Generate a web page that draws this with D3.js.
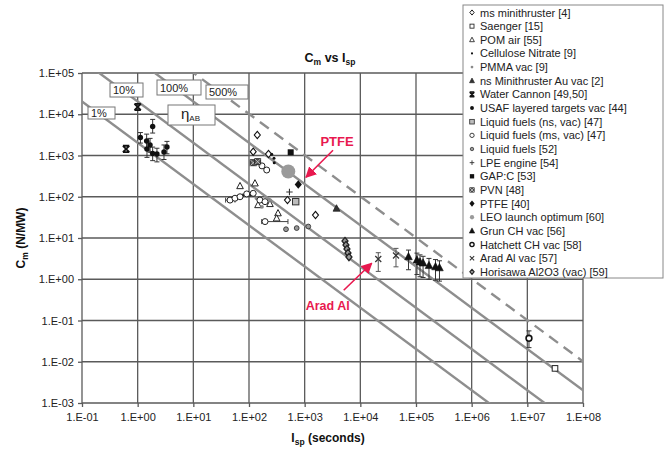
<!DOCTYPE html>
<html><head><meta charset="utf-8">
<script src="https://cdn.jsdelivr.net/npm/d3@7"></script>
<style>
html,body{margin:0;padding:0;background:#fff;}
svg{display:block;font-family:"Liberation Sans",Arial,sans-serif;}
</style></head><body>
<svg id="chart" width="669" height="450"></svg>
<script>
// ---- axis ticks ----
const xTickValues = [1e-1, 1e0, 1e1, 1e2, 1e3, 1e4, 1e5, 1e6, 1e7, 1e8];
const xTickLabels = ["1.E-01","1.E+00","1.E+01","1.E+02","1.E+03","1.E+04","1.E+05","1.E+06","1.E+07","1.E+08"];
const yTickValues = [1e-3, 1e-2, 1e-1, 1e0, 1e1, 1e2, 1e3, 1e4, 1e5];
const yTickLabels = ["1.E-03","1.E-02","1.E-01","1.E+00","1.E+01","1.E+02","1.E+03","1.E+04","1.E+05"];

// ---- constant-efficiency lines: eta_AB = Cm * g0 * Isp / 2 ----
const etaLevels = [0.01, 0.1, 1, 5];
const etaLabels = ["1%", "10%", "100%", "500%"];
const g0 = 9.80665;

// ---- series: [Isp (s), Cm (N/MW)] ----
const msMinithruster = [[141,3140],[119,1236],[224,1087],[491,83],[1565,36]];
const saenger = [[3.14e7,0.0069]];
const pomAir = [[69,182],[128,212],[145,63],[238,67],[332,40],[314,30]];
const celluloseNitrate = [[281,855],[256,1070],[284,668],[78,110],[104,110]];
const pmmaVac = [[137,92],[238,83],[171,57]];
const nsMinithrusterAu = [[3730,52]];
const waterCannon = [[1.0,15000],[0.62,1440]];
const usafTargets = [[1.86,5050],[1.12,2730],[1.45,2250],[1.67,1800],[1.47,1440],[1.86,1117],[2.22,1087],[2.97,1215],[3.36,1608]];
const usafLow  = [3500,2000,1500,1200,900,750,700,800,1100];
const usafHigh = [7500,3600,3300,2600,2200,1600,1500,1800,2200];
const liquidNsVac = [[690,76]];
const liquidMsVac = [[45.6,83],[56,92],[69,100],[91,117],[119,121],[157,83],[194,76],[208,445],[171,560],[194,25]];
const liquidMsXLow  = [38,null,null,null,null,null,null,null,null,169];
const liquidMsXHigh = [56,null,null,null,null,null,null,null,null,501];
const liquidFuels52 = [[462,16.3],[719,17.4],[1161,19]];
const lpeEngine = [[533,130]];
const gapC = [[561,1196]];
const pvn = [[119,668],[143,708]];
const ptfe = [[768,198]];
const leoOptimum = [[508,409]];
const grunCH = [[7.33e4,3.52],[1.04e5,2.93],[1.18e5,2.62],[1.34e5,2.48],[1.71e5,2.15],[2.24e5,2.01],[2.64e5,1.90]];
const grunLow  = [1.7,1.3,1.15,1.1,1.0,0.95,0.9];
const grunHigh = [5.1,4.3,3.9,3.6,3.2,3.0,2.8];
const hatchettCH = [[1.07e7,0.037]];
const hatchettLow = [0.022];
const hatchettHigh = [0.056];
const aradAl = [[2.1e4,3.1],[4.37e4,3.77]];
const aradLow  = [1.55,2.0];
const aradHigh = [4.4,5.6];
const horisawa = [[5300,8.45],[5520,6.76],[5750,5.41],[6000,4.33],[6250,3.46]];

// ---- legend entries ----
const legendNames = [
  "ms minithruster [4]","Saenger [15]","POM air [55]","Cellulose Nitrate [9]","PMMA vac [9]",
  "ns Minithruster Au vac [2]","Water Cannon [49,50]","USAF layered targets vac [44]",
  "Liquid fuels (ns, vac) [47]","Liquid fuels (ms, vac) [47]","Liquid fuels [52]","LPE engine [54]",
  "GAP:C [53]","PVN [48]","PTFE [40]","LEO launch optimum [60]","Grun CH vac [56]",
  "Hatchett CH vac [58]","Arad Al vac [57]","Horisawa Al2O3 (vac) [59]"
];

// marker styles per series (same order as legendNames)
const styles = [
  {shape:"diamond", r:3, fill:"#fff", stroke:"#111", sw:1.1},
  {shape:"square", r:2.8, fill:"#fff", stroke:"#222", sw:1},
  {shape:"triangle", r:3.3, fill:"#fff", stroke:"#222", sw:1},
  {shape:"circle", r:1.5, fill:"#111", stroke:"none", sw:0},
  {shape:"circle", r:1.9, fill:"#8a8a8a", stroke:"none", sw:0},
  {shape:"triangle", r:3.4, fill:"#333", stroke:"#222", sw:0.8},
  {shape:"hourglass", r:3.2, fill:"none", stroke:"#111", sw:1.8},
  {shape:"circle", r:2.7, fill:"#111", stroke:"none", sw:0},
  {shape:"square", r:3.2, fill:"#bdbdbd", stroke:"#333", sw:1},
  {shape:"circle", r:3, fill:"#fff", stroke:"#222", sw:1},
  {shape:"circle", r:2.4, fill:"#999", stroke:"#333", sw:0.9},
  {shape:"plus", r:3.2, fill:"none", stroke:"#333", sw:1.1},
  {shape:"square", r:3, fill:"#111", stroke:"none", sw:0},
  {shape:"xsquare", r:3, fill:"#555", stroke:"#222", sw:0.9},
  {shape:"diamond", r:3.6, fill:"#111", stroke:"none", sw:0},
  {shape:"circle", r:3, fill:"#9a9a9a", stroke:"none", sw:0, plotR:7},
  {shape:"triangle", r:3.8, fill:"#111", stroke:"#111", sw:0.6},
  {shape:"circle", r:2.9, fill:"#fff", stroke:"#111", sw:1.6},
  {shape:"x", r:3, fill:"none", stroke:"#333", sw:1.2},
  {shape:"diamond", r:3, fill:"#999", stroke:"#222", sw:1.3}
];

const seriesData = [msMinithruster, saenger, pomAir, celluloseNitrate, pmmaVac, nsMinithrusterAu,
  waterCannon, usafTargets, liquidNsVac, liquidMsVac, liquidFuels52, lpeEngine, gapC, pvn, ptfe,
  leoOptimum, grunCH, hatchettCH, aradAl, horisawa];

const yErrors = [
  {data: usafTargets, lo: usafLow, hi: usafHigh, color:"#333"},
  {data: grunCH, lo: grunLow, hi: grunHigh, color:"#333"},
  {data: hatchettCH, lo: hatchettLow, hi: hatchettHigh, color:"#333"},
  {data: aradAl, lo: aradLow, hi: aradHigh, color:"#555"}
];
const xErrors = [
  {data: liquidMsVac, lo: liquidMsXLow, hi: liquidMsXHigh, color:"#444"}
];

// ---- layout ----
const plot = {left:82, right:583, top:73, bottom:403};
const svg = d3.select("#chart");

const x = d3.scaleLog().domain([1e-1, 1e8]).range([plot.left, plot.right]);
const y = d3.scaleLog().domain([1e-3, 1e5]).range([plot.bottom, plot.top]);

svg.append("rect").attr("width",669).attr("height",450).attr("fill","#fff");

svg.append("defs").append("clipPath").attr("id","plotClip")
  .append("rect").attr("x",plot.left).attr("y",plot.top)
  .attr("width",plot.right-plot.left).attr("height",plot.bottom-plot.top);

// grid
const grid = svg.append("g").attr("stroke","#5a5a5a").attr("stroke-width",1.3);
grid.selectAll("line.h").data(yTickValues).join("line")
  .attr("x1",plot.left).attr("x2",plot.right).attr("y1",d=>y(d)).attr("y2",d=>y(d));
grid.selectAll("line.v").data(xTickValues).join("line")
  .attr("y1",plot.top).attr("y2",plot.bottom).attr("x1",d=>x(d)).attr("x2",d=>x(d));

// axes
const yAxis = svg.append("g").attr("transform",`translate(${plot.left},0)`)
  .call(d3.axisLeft(y).tickValues(yTickValues).tickFormat((d,i)=>yTickLabels[i]).tickSize(4).tickPadding(4));
const xAxis = svg.append("g").attr("transform",`translate(0,${plot.bottom})`)
  .call(d3.axisBottom(x).tickValues(xTickValues).tickFormat((d,i)=>xTickLabels[i]).tickSize(4).tickPadding(6));
[yAxis, xAxis].forEach(a=>{
  a.select(".domain").remove();
  a.selectAll(".tick line").attr("stroke","#5a5a5a").attr("stroke-width",1.3);
  a.selectAll(".tick text").attr("fill","#222").style("font-size","11px")
   .style("font-family",'"Liberation Sans",Arial,sans-serif');
});

// efficiency lines
const effLine = d3.line().x(d=>x(d[0])).y(d=>y(d[1]));
const effG = svg.append("g").attr("clip-path","url(#plotClip)");
etaLevels.forEach((eta)=>{
  const k = 2 * eta * 1e6 / g0;
  const pts = [1e-3, 1e9].map(isp=>[isp, k/isp]);
  effG.append("path").attr("d", effLine(pts))
    .attr("fill","none").attr("stroke","#8e8e8e").attr("stroke-width",2.4)
    .attr("stroke-dasharray", eta===5 ? "11,7" : null);
});

// efficiency labels
const boxes = [
  {t:etaLabels[0], x:88, y:107, w:27, h:12},
  {t:etaLabels[1], x:110, y:83, w:33, h:14},
  {t:etaLabels[2], x:157, y:80, w:44, h:15},
  {t:etaLabels[3], x:206, y:85, w:42, h:14}
];
const boxG = svg.append("g");
boxes.forEach(b=>{
  boxG.append("rect").attr("x",b.x).attr("y",b.y).attr("width",b.w).attr("height",b.h)
    .attr("fill","#fff").attr("stroke","#777").attr("stroke-width",1);
  boxG.append("text").attr("x",b.x+3).attr("y",b.y+b.h/2+4)
    .attr("fill","#222").style("font-size","11px").text(b.t);
});
boxG.append("rect").attr("x",168).attr("y",105).attr("width",47).attr("height",20)
  .attr("fill","#fff").attr("stroke","#777").attr("stroke-width",1);
const etaT = boxG.append("text").attr("x",181).attr("y",119).attr("fill","#222").style("font-size","15px");
etaT.append("tspan").text("η");
etaT.append("tspan").attr("dy",2).style("font-size","8px").text("AB");

// markers
function drawMarker(g, st, cx, cy, rOverride, scale){
  const k = scale || 1;
  const r = (rOverride || st.r) * k;
  const sw = st.sw * (k < 1 ? 0.85 : 1);
  let el;
  switch(st.shape){
    case "circle":
      el = g.append("circle").attr("cx",cx).attr("cy",cy).attr("r",r); break;
    case "square":
      el = g.append("rect").attr("x",cx-r).attr("y",cy-r).attr("width",2*r).attr("height",2*r); break;
    case "diamond":
      el = g.append("path").attr("d",`M${cx},${cy-r*1.2}L${cx+r},${cy}L${cx},${cy+r*1.2}L${cx-r},${cy}Z`); break;
    case "triangle":
      el = g.append("path").attr("d",`M${cx},${cy-r*1.1}L${cx+r},${cy+r*0.8}L${cx-r},${cy+r*0.8}Z`); break;
    case "plus":
      el = g.append("path").attr("d",`M${cx-r},${cy}H${cx+r}M${cx},${cy-r}V${cy+r}`); break;
    case "x":
      el = g.append("path").attr("d",`M${cx-r},${cy-r}L${cx+r},${cy+r}M${cx+r},${cy-r}L${cx-r},${cy+r}`); break;
    case "hourglass":
      el = g.append("path").attr("d",`M${cx-r},${cy-r}L${cx+r},${cy+r}M${cx+r},${cy-r}L${cx-r},${cy+r}M${cx-r},${cy-r}H${cx+r}M${cx-r},${cy+r}H${cx+r}`); break;
    case "xsquare":
      g.append("rect").attr("x",cx-r).attr("y",cy-r).attr("width",2*r).attr("height",2*r)
        .attr("fill",st.fill).attr("stroke",st.stroke).attr("stroke-width",sw);
      g.append("path").attr("d",`M${cx-r},${cy-r}L${cx+r},${cy+r}M${cx+r},${cy-r}L${cx-r},${cy+r}`)
        .attr("stroke","#ccc").attr("stroke-width",0.8).attr("fill","none");
      return;
  }
  const lineOnly = st.shape==="plus"||st.shape==="x"||st.shape==="hourglass";
  el.attr("fill", lineOnly ? "none" : st.fill);
  if(st.stroke!=="none") el.attr("stroke",st.stroke).attr("stroke-width",sw);
}

// error bars
const errG = svg.append("g");
yErrors.forEach(e=>{
  e.data.forEach((d,i)=>{
    const cx = x(d[0]), y1 = y(e.lo[i]), y2 = y(e.hi[i]);
    errG.append("path").attr("d",`M${cx},${y1}V${y2}M${cx-2.5},${y1}H${cx+2.5}M${cx-2.5},${y2}H${cx+2.5}`)
      .attr("stroke",e.color).attr("stroke-width",1).attr("fill","none");
  });
});
xErrors.forEach(e=>{
  e.data.forEach((d,i)=>{
    if(e.lo[i]==null) return;
    const cy = y(d[1]), x1 = x(e.lo[i]), x2 = x(e.hi[i]);
    errG.append("path").attr("d",`M${x1},${cy}H${x2}M${x1},${cy-2.5}V${cy+2.5}M${x2},${cy-2.5}V${cy+2.5}`)
      .attr("stroke",e.color).attr("stroke-width",1).attr("fill","none");
  });
});

// data points
const ptG = svg.append("g");
seriesData.forEach((data,si)=>{
  const st = styles[si];
  data.forEach(d=>drawMarker(ptG, st, x(d[0]), y(d[1]), st.plotR));
});

// annotations
const red = "#e8194f";
const defs = svg.select("defs");
defs.append("marker").attr("id","arrowHead").attr("viewBox","0 0 10 10").attr("refX",9).attr("refY",5)
  .attr("markerWidth",7).attr("markerHeight",7).attr("orient","auto")
  .append("path").attr("d","M0,0L10,5L0,10Z").attr("fill",red);

const notes = [
  {text:"PTFE", tip:[1057,296], from:[27,-27], tx:31, ty:-31, size:13},
  {text:"Arad Al", tip:[1.6e4,2.44], from:[-28,27], tx:-44, ty:47, size:12.5}
];
notes.forEach(n=>{
  const px = x(n.tip[0]), py = y(n.tip[1]);
  svg.append("line").attr("x1",px+n.from[0]).attr("y1",py+n.from[1]).attr("x2",px).attr("y2",py)
    .attr("stroke",red).attr("stroke-width",1.6).attr("marker-end","url(#arrowHead)");
  svg.append("text").attr("x",px+n.tx).attr("y",py+n.ty).attr("text-anchor","middle")
    .attr("fill",red).style("font-weight","bold").style("font-size",n.size+"px").text(n.text);
});

// legend
const lg = svg.append("g");
lg.append("rect").attr("x",463).attr("y",5).attr("width",200).attr("height",273)
  .attr("fill","#fff").attr("stroke","#888").attr("stroke-width",1);
legendNames.forEach((name,i)=>{
  const cy = 12.5 + i*13.65;
  drawMarker(lg, styles[i], 472, cy, null, 0.72);
  lg.append("text").attr("x",480).attr("y",cy+4).attr("fill","#222").style("font-size","11px").text(name);
});

// title and axis titles
const title = svg.append("text").attr("x",330).attr("y",62).attr("text-anchor","middle")
  .attr("fill","#111").style("font-weight","bold").style("font-size","12.5px");
title.append("tspan").text("C");
title.append("tspan").attr("dy",3).style("font-size","8.5px").text("m");
title.append("tspan").attr("dy",-3).text(" vs I");
title.append("tspan").attr("dy",3).style("font-size","8.5px").text("sp");

const yl = svg.append("text").attr("transform","translate(25,238) rotate(-90)").attr("text-anchor","middle")
  .attr("fill","#111").style("font-weight","bold").style("font-size","12px");
yl.append("tspan").text("C");
yl.append("tspan").attr("dy",3).style("font-size","8.5px").text("m");
yl.append("tspan").attr("dy",-3).text(" (N/MW)");

const xl = svg.append("text").attr("x",328).attr("y",442).attr("text-anchor","middle")
  .attr("fill","#111").style("font-weight","bold").style("font-size","12px");
xl.append("tspan").text("I");
xl.append("tspan").attr("dy",3).style("font-size","8.5px").text("sp");
xl.append("tspan").attr("dy",-3).text(" (seconds)");
</script>
</body></html>
